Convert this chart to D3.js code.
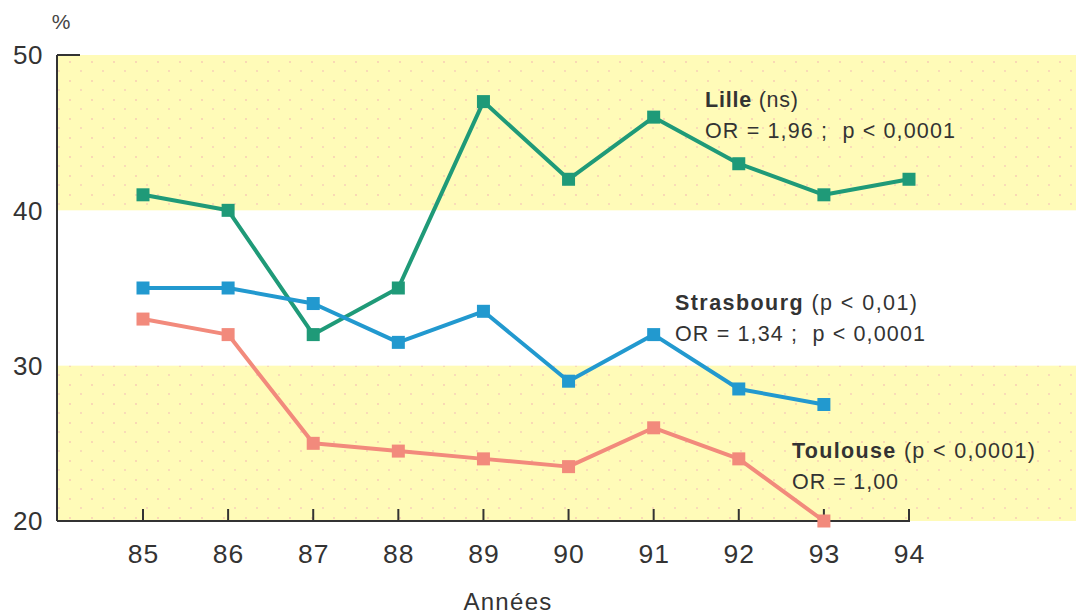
<!DOCTYPE html>
<html>
<head>
<meta charset="utf-8">
<script src="https://cdn.jsdelivr.net/npm/d3@7"></script>
<style>
  html, body { margin: 0; padding: 0; background: #fff; }
  svg { display: block; font-family: "Liberation Sans", Arial, Helvetica, sans-serif; }
</style>
</head>
<body>
<svg id="chart" width="1076" height="614"></svg>
<script>
// Years on the x axis
const years = [85, 86, 87, 88, 89, 90, 91, 92, 93, 94];
// Percentages per city
const lille      = [41, 40, 32, 35, 47, 42, 46, 43, 41, 42];
const strasbourg = [35, 35, 34, 31.5, 33.5, 29, 32, 28.5, 27.5];
const toulouse   = [33, 32, 25, 24.5, 24, 23.5, 26, 24, 20];
// Y ticks
const yTicks = [20, 30, 40, 50];
// Shaded bands (from, to)
const bands = [[20, 30], [40, 50]];

const series = [
  { name: "Lille", values: lille, color: "#1f9a78",
    label: ["Lille", " (ns)"], sub: "OR = 1,96 ;  p < 0,0001",
    lx: 705, ly: 107, w1: 93, w2: 250 },
  { name: "Strasbourg", values: strasbourg, color: "#2299cf",
    label: ["Strasbourg", " (p < 0,01)"], sub: "OR = 1,34 ;  p < 0,0001",
    lx: 675, ly: 310, w1: 242, w2: 250 },
  { name: "Toulouse", values: toulouse, color: "#f28a7c",
    label: ["Toulouse", " (p < 0,0001)"], sub: "OR = 1,00",
    lx: 792, ly: 458, w1: 243, w2: 106 }
];

const svg = d3.select("#chart");
const W = 1076;
const x = d3.scaleLinear().domain([85, 94]).range([143, 909]);
const y = d3.scaleLinear().domain([20, 50]).range([521, 55]);
const axisLeftX = 57;
const ink = "#333";

// spread the letters of a text so that it spans the given width
function fitWidth(sel, width) {
  const node = sel.node();
  const len = node.getComputedTextLength();
  const n = node.textContent.length;
  if (n > 1) sel.attr("letter-spacing", (width - len) / (n - 1));
}

// faint dot texture used in the shaded bands
const defs = svg.append("defs");
const pat = defs.append("pattern").attr("id", "dots")
  .attr("patternUnits", "userSpaceOnUse").attr("width", 22).attr("height", 19);
pat.append("rect").attr("width", 22).attr("height", 19).attr("fill", "#fffbb8");
pat.append("circle").attr("cx", 4).attr("cy", 5).attr("r", 0.9).attr("fill", "#f7c9b4");
pat.append("circle").attr("cx", 15).attr("cy", 14).attr("r", 0.9).attr("fill", "#f7cdb8");

svg.selectAll("rect.band").data(bands).join("rect")
  .attr("class", "band")
  .attr("x", axisLeftX)
  .attr("y", d => y(d[1]))
  .attr("width", W - axisLeftX)
  .attr("height", d => y(d[0]) - y(d[1]))
  .attr("fill", "url(#dots)");

// axes frame
const g = svg.append("g").attr("stroke", ink).attr("stroke-width", 2).attr("fill", "none");
g.append("line").attr("x1", axisLeftX).attr("x2", axisLeftX).attr("y1", y(50)).attr("y2", y(20));
g.append("line").attr("x1", axisLeftX).attr("x2", 80).attr("y1", y(50)).attr("y2", y(50));
g.append("line").attr("x1", axisLeftX).attr("x2", x(94) + 1).attr("y1", y(20)).attr("y2", y(20));
g.selectAll("line.tick").data(years).join("line")
  .attr("class", "tick")
  .attr("x1", d => x(d)).attr("x2", d => x(d))
  .attr("y1", y(20)).attr("y2", y(20) - 12);

// y tick labels
svg.append("g").selectAll("text").data(yTicks).join("text")
  .attr("x", 43).attr("y", d => y(d))
  .attr("dy", "0.36em")
  .attr("text-anchor", "end")
  .attr("font-size", 26).attr("letter-spacing", 0.5).attr("fill", ink)
  .text(d => d);

// x tick labels
svg.append("g").selectAll("text").data(years).join("text")
  .attr("x", d => x(d) + 0.5).attr("y", 563)
  .attr("text-anchor", "middle")
  .attr("font-size", 26.5).attr("letter-spacing", 1).attr("fill", ink)
  .text(d => d);

svg.append("text").attr("x", 61).attr("y", 29).attr("text-anchor", "middle")
  .attr("font-size", 21).attr("fill", "#444").text("%");
svg.append("text").attr("x", 508).attr("y", 610).attr("text-anchor", "middle")
  .attr("font-size", 24).attr("letter-spacing", 1.3).attr("fill", ink).text("Années");

// lines and square markers
const line = d3.line().x((d, i) => x(years[i])).y(d => y(d));
series.forEach(s => {
  svg.append("path").datum(s.values)
    .attr("d", line).attr("fill", "none")
    .attr("stroke", s.color).attr("stroke-width", 4)
    .attr("stroke-linejoin", "round");
  svg.append("g").selectAll("rect").data(s.values).join("rect")
    .attr("x", (d, i) => x(years[i]) - 6.5)
    .attr("y", d => y(d) - 6.5)
    .attr("width", 13).attr("height", 13)
    .attr("fill", s.color);

  const t = svg.append("text").attr("x", s.lx).attr("y", s.ly)
    .attr("font-size", 21.5).attr("fill", ink);
  t.append("tspan").attr("font-weight", "bold").text(s.label[0]);
  t.append("tspan").text(s.label[1]);
  fitWidth(t, s.w1);
  const t2 = svg.append("text").attr("x", s.lx).attr("y", s.ly + 31)
    .attr("font-size", 21.5).attr("fill", ink).attr("xml:space", "preserve")
    .style("white-space", "pre").text(s.sub);
  fitWidth(t2, s.w2);
});
</script>
</body>
</html>
